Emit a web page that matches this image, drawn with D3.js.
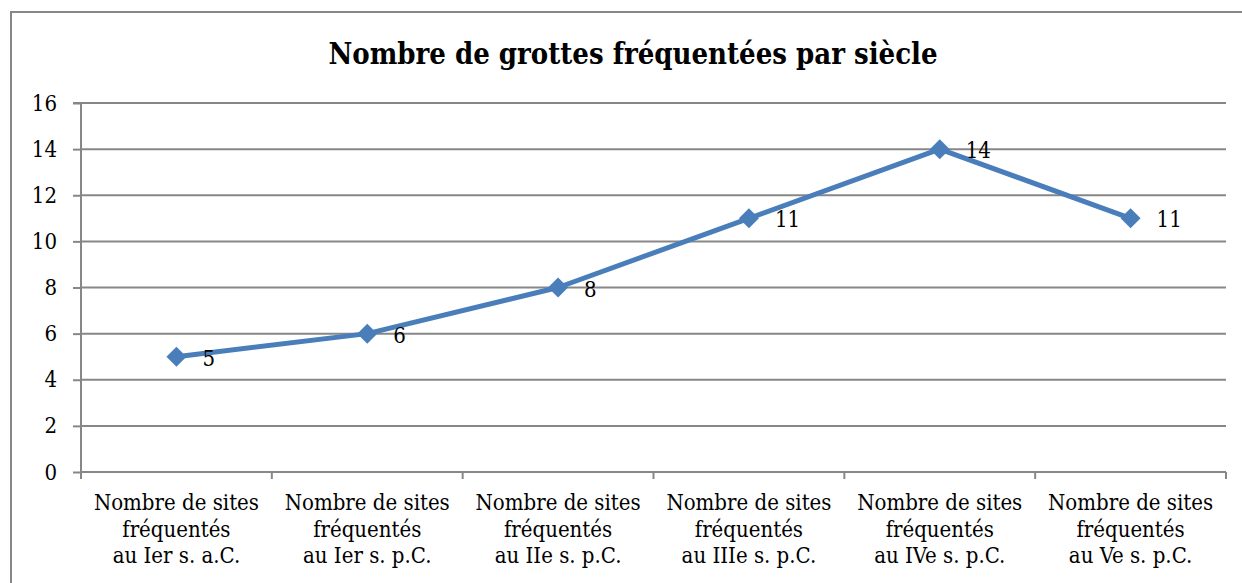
<!DOCTYPE html>
<html>
<head>
<meta charset="utf-8">
<script src="https://cdn.jsdelivr.net/npm/d3@7/dist/d3.min.js"></script>
<style>
  html, body { margin: 0; padding: 0; background: #fff; }
  svg { display: block; }
</style>
</head>
<body>
<svg id="chart" width="1242" height="583"></svg>
<script>
// Data: number of caves frequented per century
const categories = [
  ["Nombre de sites", "fréquentés", "au Ier s. a.C."],
  ["Nombre de sites", "fréquentés", "au Ier s. p.C."],
  ["Nombre de sites", "fréquentés", "au IIe s. p.C."],
  ["Nombre de sites", "fréquentés", "au IIIe s. p.C."],
  ["Nombre de sites", "fréquentés", "au IVe s. p.C."],
  ["Nombre de sites", "fréquentés", "au Ve s. p.C."]
];
const values = [5, 6, 8, 11, 14, 11];
const yTicks = [0, 2, 4, 6, 8, 10, 12, 14, 16];
const title = "Nombre de grottes fréquentées par siècle";

const FONT = "'DejaVu Serif Condensed', 'DejaVu Serif', serif";
const svg = d3.select("#chart");
const margin = { left: 81, right: 1226, top: 103, bottom: 472 };
const grid = "#878787";
const blue = "#4a7ebb";

// Outer chart frame
svg.append("rect")
  .attr("x", 11).attr("y", 12)
  .attr("width", 1260).attr("height", 600)
  .attr("fill", "none").attr("stroke", grid).attr("stroke-width", 2);

// Title
svg.append("text")
  .attr("x", 633).attr("y", 64)
  .attr("text-anchor", "middle")
  .style("font-family", FONT)
  .style("font-size", "29px").style("font-weight", "bold")
  .text(title);

const keys = categories.map((c, i) => i);
const x = d3.scaleBand().domain(keys).range([margin.left, margin.right]);
const y = d3.scaleLinear().domain([0, 16]).range([margin.bottom, margin.top]);

// Horizontal gridlines
svg.append("g").selectAll("line")
  .data(yTicks.filter(t => t > 0))
  .join("line")
  .attr("x1", margin.left).attr("x2", margin.right)
  .attr("y1", d => y(d)).attr("y2", d => y(d))
  .attr("stroke", grid).attr("stroke-width", 2);

// Y axis
const yAxis = svg.append("g")
  .attr("transform", `translate(${margin.left},0)`)
  .call(d3.axisLeft(y).tickValues(yTicks).tickSize(8).tickPadding(16).tickFormat(d3.format("d")));
yAxis.select(".domain").attr("stroke", grid).attr("stroke-width", 2).attr("d", `M-8,${margin.top}H0V${margin.bottom}`);
yAxis.selectAll(".tick line").attr("stroke", grid).attr("stroke-width", 2);
yAxis.selectAll(".tick text")
  .style("font-family", FONT)
  .style("font-size", "22px").attr("fill", "#000");

// X axis with ticks at band boundaries
const xAxisG = svg.append("g");
xAxisG.append("line")
  .attr("x1", margin.left).attr("x2", margin.right)
  .attr("y1", margin.bottom).attr("y2", margin.bottom)
  .attr("stroke", grid).attr("stroke-width", 2);
const bounds = keys.map(k => x(k)).concat([margin.right]);
xAxisG.selectAll("line.tk")
  .data(bounds)
  .join("line").attr("class", "tk")
  .attr("x1", d => d).attr("x2", d => d)
  .attr("y1", margin.bottom).attr("y2", margin.bottom + 7)
  .attr("stroke", grid).attr("stroke-width", 2);

// Category labels (three lines each)
const catG = xAxisG.selectAll("text.cat")
  .data(categories)
  .join("text").attr("class", "cat")
  .attr("text-anchor", "middle")
  .style("font-family", FONT)
  .style("font-size", "22px");
catG.selectAll("tspan")
  .data((d, i) => d.map(s => ({ s, i })))
  .join("tspan")
  .attr("x", d => x(d.i) + x.bandwidth() / 2)
  .attr("y", (d, j) => 510 + j * 26.5)
  .text(d => d.s);

// Series line
const line = d3.line()
  .x((d, i) => x(i) + x.bandwidth() / 2)
  .y(d => y(d));
svg.append("path")
  .datum(values)
  .attr("d", line)
  .attr("fill", "none")
  .attr("stroke", blue)
  .attr("stroke-width", 5)
  .attr("stroke-linejoin", "round");

// Diamond markers
svg.append("g").selectAll("path")
  .data(values)
  .join("path")
  .attr("transform", (d, i) => `translate(${x(i) + x.bandwidth() / 2},${y(d)})`)
  .attr("d", "M0,-10L10,0L0,10L-10,0Z")
  .attr("fill", blue);

// Value labels
svg.append("g").selectAll("text")
  .data(values)
  .join("text")
  .attr("x", (d, i) => x(i) + x.bandwidth() / 2 + 26)
  .attr("y", d => y(d) + 9)
  .style("font-family", FONT)
  .style("font-size", "22px")
  .text(d => d);
</script>
</body>
</html>
